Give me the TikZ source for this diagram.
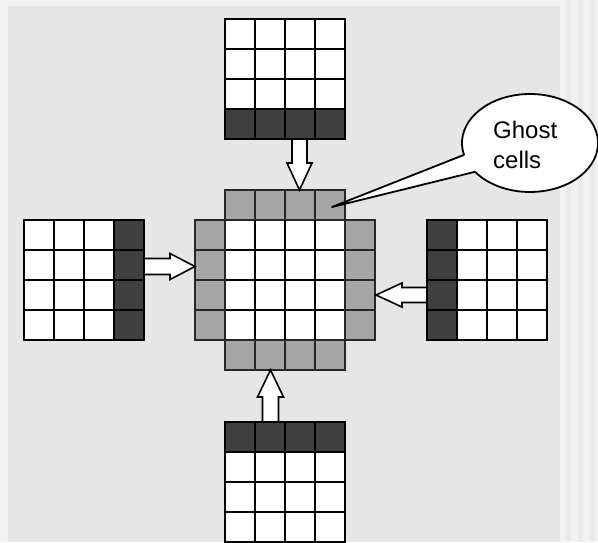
\documentclass[tikz,border=0pt]{standalone}
\usepackage{fontspec}
\setmainfont{Liberation Sans}
\definecolor{outerbg}{HTML}{F1F1F1}
\definecolor{innerbg}{HTML}{E6E6E6}
\definecolor{stripe}{HTML}{EAEAEA}
\definecolor{darkcell}{HTML}{404040}
\definecolor{ghostcell}{HTML}{A6A6A6}
\tikzset{
  cell/.style={fill=white,draw=black,line width=1.7pt},
  darkc/.style={fill=darkcell,draw=black,line width=1.7pt},
  ghostc/.style={fill=ghostcell,draw=black!85,line width=1.7pt},
  blockarr/.style={fill=white,draw=black,line width=1.6pt,line join=miter},
  callout/.style={fill=white,draw=black,line width=1.8pt,line join=round},
  lbl/.style={font=\fontsize{24}{28}\selectfont,anchor=base west,inner sep=0pt}
}
\newcommand{\myvarrow}[6]{\draw[blockarr] ({#1-#5},#2) -- ({#1-#5},#3) -- ({#1-#6},#3) -- (#1,#4) -- ({#1+#6},#3) -- ({#1+#5},#3) -- ({#1+#5},#2) -- cycle;}
\newcommand{\myharrow}[6]{\draw[blockarr] (#2,{#1-#5}) -- (#3,{#1-#5}) -- (#3,{#1-#6}) -- (#4,#1) -- (#3,{#1+#6}) -- (#3,{#1+#5}) -- (#2,{#1+#5}) -- cycle;}
\begin{document}
\begin{tikzpicture}[x=1pt,y=-1pt]
\useasboundingbox (0,0) rectangle (598,542);
% background
\fill[outerbg] (0,0) rectangle (598,542);
\foreach \s in {566,578,590} \fill[stripe] (\s,0) rectangle ++(5,542);
\fill[innerbg] (8,6) rectangle (560,542);
% top grid
\foreach \i in {0,...,3} \foreach \j in {0,...,2} \draw[cell] (225+30*\i,19+30*\j) rectangle ++(30,30);
\foreach \i in {0,...,3} \draw[darkc] (225+30*\i,109) rectangle ++(30,30);
% center grid
\foreach \i in {0,...,3} \foreach \j in {0,...,3} \draw[cell] (225+30*\i,220+30*\j) rectangle ++(30,30);
\foreach \i in {0,...,3} {
  \draw[ghostc] (225+30*\i,190) rectangle ++(30,30);
  \draw[ghostc] (225+30*\i,340) rectangle ++(30,30);
  \draw[ghostc] (195,220+30*\i) rectangle ++(30,30);
  \draw[ghostc] (345,220+30*\i) rectangle ++(30,30);
}
% left grid
\foreach \i in {0,...,2} \foreach \j in {0,...,3} \draw[cell] (24+30*\i,220+30*\j) rectangle ++(30,30);
\foreach \j in {0,...,3} \draw[darkc] (114,220+30*\j) rectangle ++(30,30);
% right grid
\foreach \i in {1,...,3} \foreach \j in {0,...,3} \draw[cell] (427+30*\i,220+30*\j) rectangle ++(30,30);
\foreach \j in {0,...,3} \draw[darkc] (427,220+30*\j) rectangle ++(30,30);
% bottom grid
\foreach \i in {0,...,3} \foreach \j in {1,...,3} \draw[cell] (225+30*\i,422+30*\j) rectangle ++(30,30);
\foreach \i in {0,...,3} \draw[darkc] (225+30*\i,422) rectangle ++(30,30);
% block arrows
\myvarrow{299.5}{139}{163}{190}{7.5}{12.5}
\myvarrow{270.5}{422}{397}{370}{8}{13}
\myharrow{266.5}{144}{170}{195}{8}{13}
\myharrow{295}{427}{402}{376}{7.5}{12}
% callout
\coordinate (ec) at (530,143);
\coordinate (tip) at (332,207);
\draw[callout] (ec) ++(194:68pt and 49pt) arc[start angle=194, end angle=-144, x radius=68pt, y radius=49pt] -- (tip) -- cycle;
\node[lbl] (g1) at (493,138) {Ghost};
\node[lbl] (g2) at (493,168) {cells};
\end{tikzpicture}
\end{document}
